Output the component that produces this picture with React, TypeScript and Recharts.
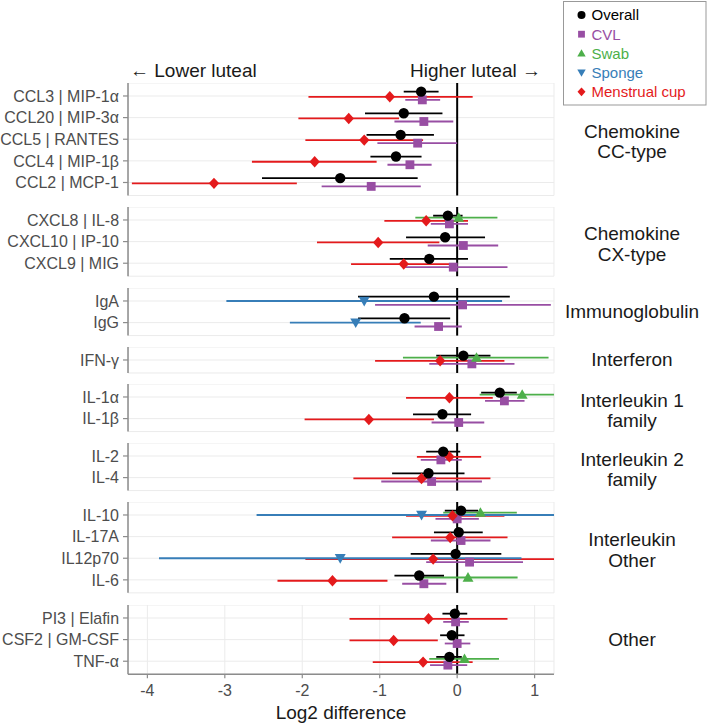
import { ComposedChart, Scatter, ErrorBar, XAxis, YAxis, CartesianGrid, ReferenceLine } from "recharts";

type Est = [number, number, number] | null;

// estimate, lower, upper (log2 difference)
const proteins = [
  "CCL3 | MIP-1α", "CCL20 | MIP-3α", "CCL5 | RANTES", "CCL4 | MIP-1β", "CCL2 | MCP-1",
  "CXCL8 | IL-8", "CXCL10 | IP-10", "CXCL9 | MIG",
  "IgA", "IgG",
  "IFN-γ",
  "IL-1α", "IL-1β",
  "IL-2", "IL-4",
  "IL-10", "IL-17A", "IL12p70", "IL-6",
  "PI3 | Elafin", "CSF2 | GM-CSF", "TNF-α",
];
const groupSizes = [5, 3, 2, 1, 2, 2, 4, 3];
const groupLabels = [
  ["Chemokine", "CC-type"], ["Chemokine", "CX-type"], ["Immunoglobulin"], ["Interferon"],
  ["Interleukin 1", "family"], ["Interleukin 2", "family"], ["Interleukin", "Other"], ["Other"],
];
const xTicks = [-4, -3, -2, -1, 0, 1];
const xDomain = [-4.25, 1.25];

const overall: Est[] = [
  [-0.465, -0.69, -0.24], [-0.69, -1.19, -0.19], [-0.73, -1.17, -0.3], [-0.79, -1.12, -0.46], [-1.51, -2.52, -0.51],
  [-0.12, -0.31, 0.07], [-0.155, -0.66, 0.36], [-0.36, -0.87, 0.14],
  [-0.3, -1.28, 0.68], [-0.68, -1.28, -0.09],
  [0.08, -0.27, 0.43],
  [0.55, 0.31, 0.77], [-0.19, -0.57, 0.18],
  [-0.18, -0.4, 0.04], [-0.37, -0.84, 0.095],
  [0.05, -0.16, 0.27], [0.02, -0.3, 0.33], [-0.02, -0.6, 0.57], [-0.49, -0.81, -0.17],
  [-0.03, -0.19, 0.13], [-0.07, -0.22, 0.095], [-0.1, -0.27, 0.06],
];
const cvl: Est[] = [
  [-0.45, -0.67, -0.22], [-0.43, -0.81, -0.05], [-0.51, -1.03, 0.0], [-0.61, -0.9, -0.33], [-1.11, -1.75, -0.47],
  [-0.1, -0.34, 0.14], [0.08, -0.38, 0.53], [-0.05, -0.67, 0.65],
  [0.07, -1.06, 1.21], [-0.24, -0.55, 0.06],
  [0.19, -0.36, 0.74],
  [0.61, 0.36, 0.87], [0.02, -0.33, 0.35],
  [-0.21, -0.47, 0.06], [-0.33, -0.98, 0.32],
  [0.0, -0.28, 0.28], [0.05, -0.34, 0.43], [0.16, -0.4, 0.85], [-0.43, -0.71, -0.14],
  [-0.02, -0.18, 0.15], [0.0, -0.16, 0.17], [-0.12, -0.35, 0.13],
];
const swab: Est[] = [
  null, null, null, null, null,
  [0.02, -0.54, 0.52], null, null,
  null, null,
  [0.25, -0.7, 1.18],
  [0.84, 0.29, 1.4], null,
  null, null,
  [0.3, -0.18, 0.77], null, null, [0.14, -0.46, 0.78],
  null, null, [0.095, -0.36, 0.54],
];
const sponge: Est[] = [
  null, null, null, null, null,
  null, null, null,
  [-1.2, -2.98, 0.58], [-1.31, -2.16, -0.47],
  null,
  null, null,
  null, null,
  [-0.46, -2.59, 1.6], null, [-1.51, -3.85, 0.83], null,
  null, null, null,
];
const cup: Est[] = [
  [-0.87, -1.92, 0.2], [-1.4, -2.05, -0.75], [-1.2, -1.96, -0.44], [-1.84, -2.65, -1.04], [-3.14, -4.2, -2.07],
  [-0.4, -0.94, 0.14], [-1.02, -1.81, -0.23], [-0.69, -1.37, -0.07],
  null, null,
  [-0.22, -1.06, 0.61],
  [-0.1, -0.66, 0.46], [-1.14, -1.97, -0.3],
  [-0.1, -0.52, 0.31], [-0.46, -1.34, 0.43],
  [-0.06, -0.66, 0.61], [-0.09, -0.84, 0.65], [-0.31, -1.96, 1.4], [-1.61, -2.32, -0.9],
  [-0.37, -1.39, 0.65], [-0.82, -1.39, -0.25], [-0.44, -1.09, 0.2],
];

const FONT = "'Liberation Sans', Arial, Helvetica, sans-serif";
const ROW = 21.63;
const GAP = 11.5;
const TOP = 83;
const CHART_W = 568;
const AXIS_GREY = "#8c8c8c";

const SERIES = [
  { name: "Overall", data: overall, color: "#000000", shape: "circle", dy: -0.2 },
  { name: "CVL", data: cvl, color: "#984EA3", shape: "square", dy: 0.18 },
  { name: "Swab", data: swab, color: "#4DAF4A", shape: "triangle", dy: -0.11 },
  { name: "Sponge", data: sponge, color: "#377EB8", shape: "down", dy: 0 },
  { name: "Menstrual cup", data: cup, color: "#E41A1C", shape: "diamond", dy: 0.04 },
];
// draw order: Overall ends up on top
const DRAW_ORDER = [1, 4, 3, 2, 0];

function glyph(kind: string, cx: number, cy: number, color: string, s: number) {
  switch (kind) {
    case "circle":
      return <circle cx={cx} cy={cy} r={s} fill={color} />;
    case "square":
      return <rect x={cx - s * 0.85} y={cy - s * 0.85} width={s * 1.7} height={s * 1.7} fill={color} />;
    case "triangle":
      return <polygon points={`${cx},${cy - s * 1.05} ${cx + s * 1.05},${cy + s * 0.8} ${cx - s * 1.05},${cy + s * 0.8}`} fill={color} />;
    case "down":
      return <polygon points={`${cx},${cy + s * 1.05} ${cx + s * 1.05},${cy - s * 0.8} ${cx - s * 1.05},${cy - s * 0.8}`} fill={color} />;
    default:
      return <polygon points={`${cx},${cy - s * 1.1} ${cx + s},${cy} ${cx},${cy + s * 1.1} ${cx - s},${cy}`} fill={color} />;
  }
}

function markerShape(kind: string, color: string) {
  return (props: any) => {
    const { cx, cy } = props;
    if (cx == null || cy == null) return <g />;
    return glyph(kind, cx, cy, color, 5.2);
  };
}

const emptyShape = () => <g />;

function Panel({ gi, top }: { gi: number; top: number }) {
  const n = groupSizes[gi];
  const start = groupSizes.slice(0, gi).reduce((a, b) => a + b, 0);
  const last = gi === groupSizes.length - 1;
  const rows = Array.from({ length: n }, (_, i) => i + 1);
  const plotH = (n + 0.2) * ROW;
  const height = plotH + (last ? 34 : 2);

  // intervals are cut at the panel edge, like the original plot window
  const pts = SERIES.map((s) =>
    rows
      .filter((r) => s.data[start + r - 1])
      .map((r) => {
        const [est, lo, hi] = s.data[start + r - 1] as [number, number, number];
        const loC = Math.max(lo, xDomain[0]);
        const hiC = Math.min(hi, xDomain[1]);
        return { x: est, y: r + s.dy, err: [est - loC, hiC - est] };
      })
  );

  return (
    <div style={{ position: "absolute", left: 0, top, width: CHART_W, height }}>
      <ComposedChart width={CHART_W} height={height} margin={{ top: 0, right: 14, bottom: last ? 0 : 2, left: 0 }}>
        <CartesianGrid stroke="#ebebeb" strokeWidth={1} />
        <XAxis
          type="number"
          dataKey="x"
          domain={xDomain}
          ticks={xTicks}
          allowDataOverflow
          height={last ? 34 : 0}
          tick={last ? { fill: "#4d4d4d", fontSize: 16, fontFamily: FONT } : false}
          tickLine={last ? { stroke: AXIS_GREY, strokeWidth: 1.2 } : false}
          tickSize={4}
          tickMargin={6}
          axisLine={{ stroke: AXIS_GREY, strokeWidth: 1.5 }}
        />
        <YAxis
          type="number"
          dataKey="y"
          domain={[0.4, n + 0.6]}
          ticks={rows}
          interval={0}
          reversed
          allowDataOverflow
          width={128}
          tickFormatter={(v: number) => proteins[start + v - 1]}
          tick={{ fill: "#4d4d4d", fontSize: 16, fontFamily: FONT }}
          tickLine={{ stroke: AXIS_GREY, strokeWidth: 1.2 }}
          tickSize={5}
          tickMargin={4}
          axisLine={{ stroke: AXIS_GREY, strokeWidth: 1.5 }}
        />
        <ReferenceLine x={0} stroke="#000" strokeWidth={2} />
        {DRAW_ORDER.map((si) => (
          <Scatter key={"e" + si} data={pts[si]} shape={emptyShape} isAnimationActive={false}>
            <ErrorBar dataKey="err" direction="x" width={0} stroke={SERIES[si].color} strokeWidth={1.8} />
          </Scatter>
        ))}
        {DRAW_ORDER.map((si) => (
          <Scatter
            key={"p" + si}
            data={pts[si]}
            shape={markerShape(SERIES[si].shape, SERIES[si].color)}
            isAnimationActive={false}
          />
        ))}
      </ComposedChart>
    </div>
  );
}

export default function App() {
  const tops: number[] = [];
  let y = TOP;
  groupSizes.forEach((n) => {
    tops.push(y);
    y += (n + 0.2) * ROW + GAP;
  });

  return (
    <div style={{ position: "absolute", left: 0, top: 0, width: 708, height: 724, background: "#fff", fontFamily: FONT }}>
      {groupSizes.map((_, gi) => (
        <Panel key={gi} gi={gi} top={tops[gi]} />
      ))}
      <svg width={708} height={724} style={{ position: "absolute", left: 0, top: 0, pointerEvents: "none" }}>
        <g fontFamily={FONT}>
          <text x={130} y={76.5} fontSize={19} fill="#1a1a1a">← Lower luteal</text>
          <text x={541} y={76.5} fontSize={19} fill="#1a1a1a" textAnchor="end">Higher luteal →</text>
          <text x={341} y={719} fontSize={19} fill="#1a1a1a" textAnchor="middle">Log2 difference</text>
          {groupLabels.map((lines, gi) => {
            const c = tops[gi] + ((groupSizes[gi] + 0.2) * ROW) / 2;
            return lines.length === 1 ? (
              <text key={gi} x={632} y={c + 6.5} fontSize={19} fill="#1a1a1a" textAnchor="middle">{lines[0]}</text>
            ) : (
              <text key={gi} x={632} fontSize={19} fill="#1a1a1a" textAnchor="middle">
                <tspan x={632} y={c - 1.5}>{lines[0]}</tspan>
                <tspan x={632} y={c + 19}>{lines[1]}</tspan>
              </text>
            );
          })}
          <rect x={563.5} y={1.5} width={142.5} height={103.5} fill="#fff" stroke="#999" strokeWidth={1} />
          {SERIES.map((s, i) => {
            const cy = 15 + i * 19.2;
            return (
              <g key={s.name}>
                {glyph(s.shape, 581.5, cy, s.color, 4)}
                <text x={591.5} y={cy + 5.4} fontSize={15} fill={s.color}>{s.name}</text>
              </g>
            );
          })}
        </g>
      </svg>
    </div>
  );
}
